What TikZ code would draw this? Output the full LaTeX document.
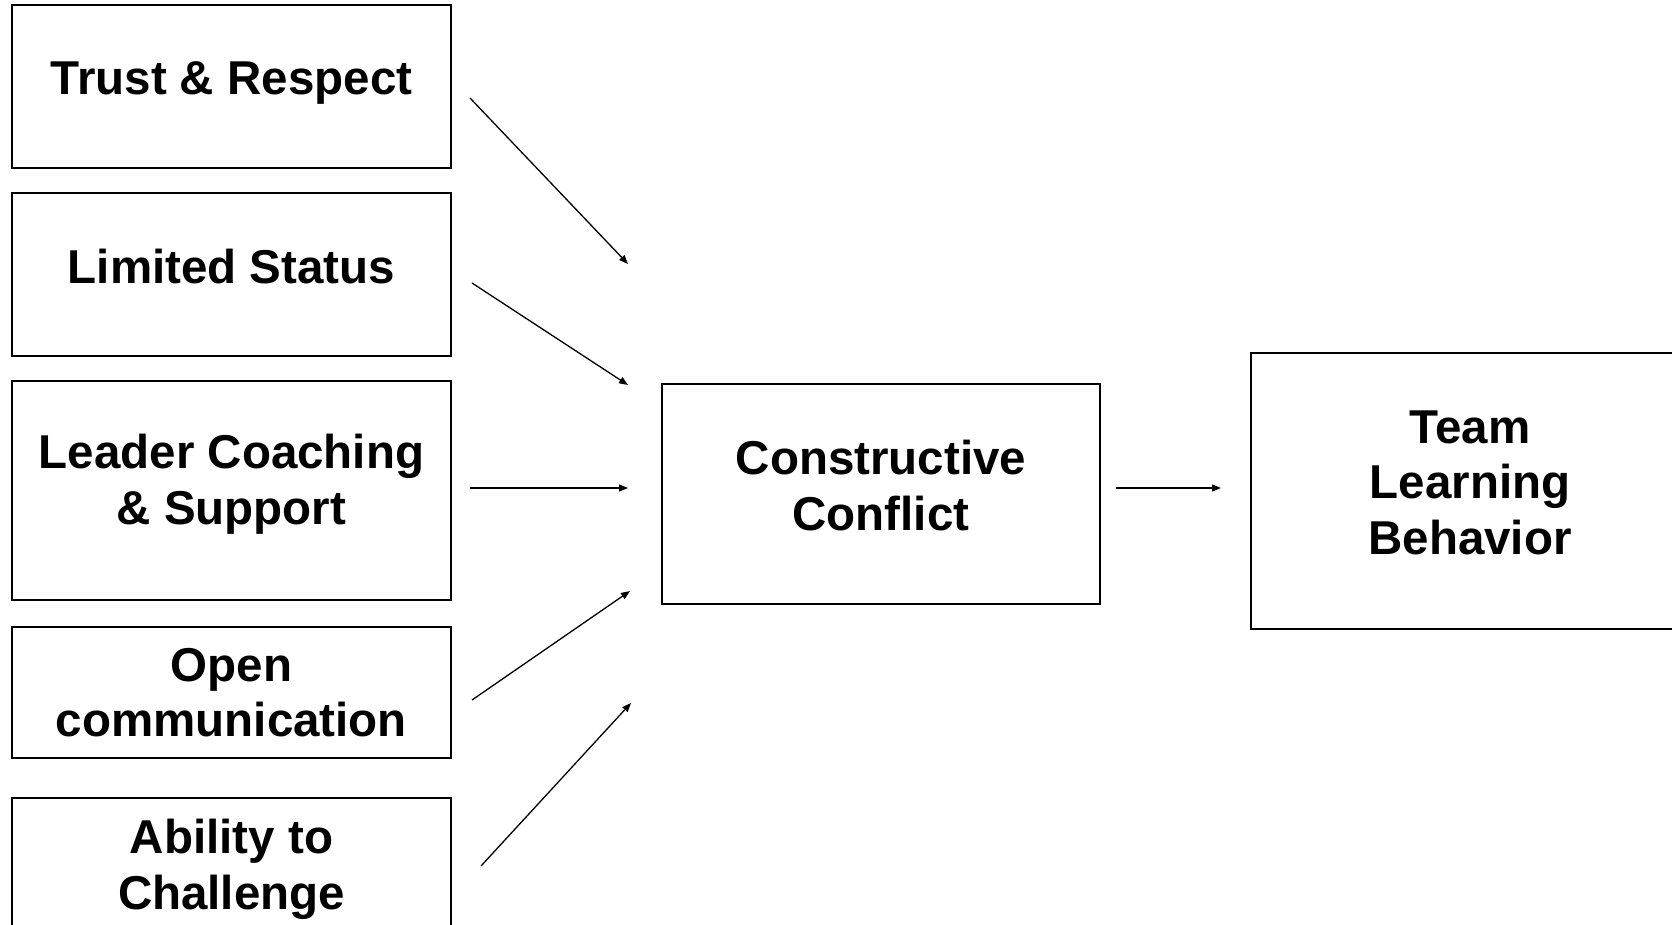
\documentclass[tikz,border=0pt]{standalone}
\usepackage{fontspec}
\setmainfont{Liberation Sans}
\usetikzlibrary{arrows.meta,positioning}

\tikzset{
  factor/.style={draw=black, line width=1.5pt, inner sep=0pt, align=center,
    text depth=17pt, font=\fontsize{47.5}{55.5}\selectfont\bfseries},
  arr/.style={line width=1.3pt, -{Triangle[length=9pt,width=7pt]}}
}

\begin{document}
\begin{tikzpicture}[x=1pt,y=-1pt]
    \useasboundingbox (0,0) rectangle (1672,925);

    % Antecedents
    \node[factor, minimum width=439pt, minimum height=163pt] (trust) at (231.5,86.5) {Trust \& Respect};
    \node[factor, minimum width=439pt, minimum height=163pt] (status) at (231.5,274.5) {Limited Status};
    \node[factor, minimum width=439pt, minimum height=219pt, text depth=22pt] (coach) at (231.5,490.5) {Leader Coaching\\\& Support};
    \node[factor, minimum width=439pt, minimum height=131pt, text depth=0pt] (open) at (231.5,692.5) {Open\\communication};
    \node[factor, minimum width=439pt, minimum height=150pt] (challenge) at (231.5,873) {Ability to\\Challenge};

    % Mediator and outcome
    \node[factor, minimum width=438pt, minimum height=220pt] (conflict) at (881,494) {Constructive\\Conflict};
    \node[factor, minimum width=438pt, minimum height=276pt] (learning) at (1470,491) {Team\\Learning\\Behavior};

    % Arrow ends
    \coordinate (trust-out) at (470,98);
    \coordinate (status-out) at (472,283);
    \coordinate (coach-out) at (470,488);
    \coordinate (open-out) at (472,700);
    \coordinate (challenge-out) at (481,866);
    \coordinate (conflict-in1) at (628,264);
    \coordinate (conflict-in2) at (628,385);
    \coordinate (conflict-in3) at (628,488);
    \coordinate (conflict-in4) at (630,591);
    \coordinate (conflict-in5) at (631,703);
    \coordinate (conflict-out) at (1116,488);
    \coordinate (learning-in) at (1221,488);

    \draw[arr] (trust-out) -- (conflict-in1);
    \draw[arr] (status-out) -- (conflict-in2);
    \draw[arr] (coach-out) -- (conflict-in3);
    \draw[arr] (open-out) -- (conflict-in4);
    \draw[arr] (challenge-out) -- (conflict-in5);
    \draw[arr] (conflict-out) -- (learning-in);
\end{tikzpicture}
\end{document}
